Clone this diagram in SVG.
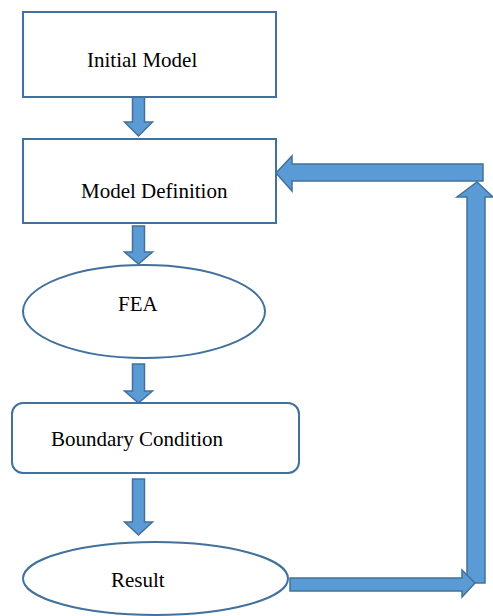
<svg xmlns="http://www.w3.org/2000/svg" width="493" height="616" viewBox="0 0 493 616">
<style>
.node{fill:#fff;stroke:#41719C;stroke-width:2}
.arr{fill:#5B9BD5;stroke:#41719C;stroke-width:1.5;stroke-linejoin:miter}
.lbl{font-family:'Liberation Serif','DejaVu Serif',serif;font-size:21px;fill:#000}
</style>
<rect width="493" height="616" fill="#fff"/>
<g id="connectors">
<path class="arr" d="M132.5,97 H144.5 V122 H152.5 L138.5,136 L124.5,122 H132.5 Z"/>
<path class="arr" d="M132.5,226 H144.5 V252 H152.5 L138.5,264 L124.5,252 H132.5 Z"/>
<path class="arr" d="M132.5,364 H144.5 V391 H152.5 L138.5,403 L124.5,391 H132.5 Z"/>
<path class="arr" d="M132.5,479 H144.5 V522 H152.5 L138.5,535 L124.5,522 H132.5 Z"/>
<path class="arr" d="M467,583 V197 H457 L477,182 L493,197 H485 V583 Z"/>
<path class="arr" d="M290,578 H462 V570 L475,583 L462,597 V591 H290 Z"/>
<path class="arr" d="M483,164 V181 H292 V191 L276,173 L292,156 V164 Z"/>
</g>
<g id="initial-model">
<rect class="node" x="23" y="12" width="253" height="85"/>
<text class="lbl" x="87" y="67">Initial Model</text>
</g>
<g id="model-definition">
<rect class="node" x="23" y="139" width="253" height="84"/>
<text class="lbl" x="81" y="198">Model Definition</text>
</g>
<g id="fea">
<ellipse class="node" cx="144" cy="311.5" rx="121" ry="46.5"/>
<text class="lbl" x="118" y="311">FEA</text>
</g>
<g id="boundary-condition">
<rect class="node" x="12" y="403" width="287" height="70" rx="11"/>
<text class="lbl" x="51" y="446">Boundary Condition</text>
</g>
<g id="result">
<ellipse class="node" cx="155.5" cy="578.5" rx="132.5" ry="36.5"/>
<text class="lbl" x="111" y="587">Result</text>
</g>
</svg>
